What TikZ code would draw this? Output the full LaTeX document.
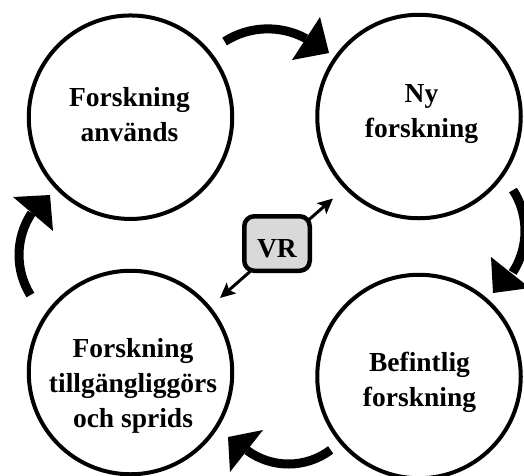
\documentclass[tikz,border=0pt]{standalone}
\usepackage{fontspec}
\setmainfont{Liberation Serif}
\usetikzlibrary{arrows.meta}
\definecolor{boxgray}{HTML}{D9D9D9}
\begin{document}
\begin{tikzpicture}[x=1pt,y=-1pt,
  stage/.style={circle, draw=black, line width=4pt, minimum size=203.5pt, inner sep=0pt},
  lbl/.style={anchor=base, inner sep=0pt, font=\fontsize{27.5}{35}\selectfont\bfseries},
  cyc/.style={line width=9pt, draw=black},
  head/.style={fill=black, draw=none},
  vrbox/.style={draw=black, fill=boxgray, line width=4.5pt, rounded corners=10pt,
    minimum width=65.5pt, minimum height=54.5pt, inner sep=0pt,
    font=\fontsize{27.5}{35}\selectfont\bfseries, text height=27pt, text depth=0pt},
  link/.style={line width=3pt,
    {Stealth[length=15pt,width=14pt,inset=3pt]}-{Stealth[length=15pt,width=14pt,inset=3pt]}}
]
\useasboundingbox (0,0) rectangle (524,475);
\clip (0,0) rectangle (524,475);

% stages
\node[stage] (used) at (130.5,117.2) {};
\node[stage] (new)  at (419,116.5) {};
\node[stage] (spread) at (130.5,372.5) {};
\node[stage] (exist) at (419,376.5) {};

\node[lbl] (usedT) at (129.5,106) {\begin{tabular}[t]{@{}c@{}}Forskning\\används\end{tabular}};
\node[lbl] (newT) at (421.5,102.7) {\begin{tabular}[t]{@{}c@{}}Ny\\forskning\end{tabular}};
\node[lbl] (spreadT) at (133,357.3) {\begin{tabular}[t]{@{}c@{}}Forskning\\tillgängliggörs\\och sprids\end{tabular}};
\node[lbl] (existT) at (419.5,371.7) {\begin{tabular}[t]{@{}c@{}}Befintlig\\forskning\end{tabular}};

% cycle arrows
\draw[cyc] (267.8,108.85) ++(-122.7:80) arc[start angle=-122.7, end angle=-61.5, radius=80];
\fill[head] (329,53) -- (320,17) -- (292,60) -- cycle;

\draw[cyc] (449,231) ++(-32.6:76) arc[start angle=-32.6, end angle=33.1, radius=76];
\fill[head] (493,293) -- (491,257) -- (530,288) -- cycle;

\draw[cyc] (288.5,394) ++(53:70) arc[start angle=53, end angle=126.4, radius=70];
\fill[head] (228,437) -- (263,430) -- (230,472) -- cycle;

\draw[cyc] (95,255) ++(148.2:76) arc[start angle=148.2, end angle=213.5, radius=76];
\fill[head] (50,195) -- (13,197) -- (53,231) -- cycle;

% VR
\coordinate (ne) at (333,198.5);
\coordinate (sw) at (220,298);
\draw[link] (sw) -- (ne);
\node[vrbox] (vr) at (277,243.5) {VR};
\end{tikzpicture}
\end{document}
